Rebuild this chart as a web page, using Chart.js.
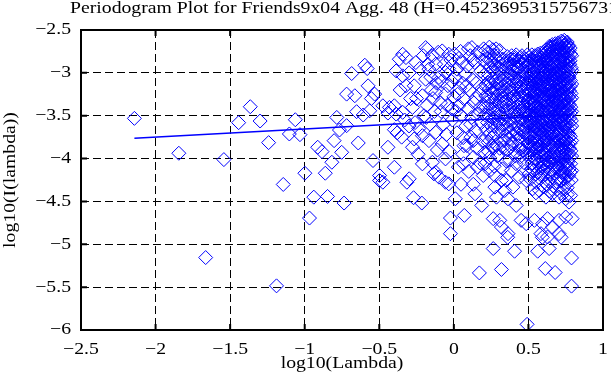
<!DOCTYPE html>
<html>
<head>
  <meta charset="UTF-8">
  <title>Periodogram Plot</title>
  <script src="https://cdn.jsdelivr.net/npm/chart.js"></script>
  <style>
    body, html { margin: 0; padding: 0; background: #fff; }
    #wrap { width: 611px; height: 385px; position: relative; }
  </style>
</head>
<body>
  <div id="wrap"><canvas id="pgram" width="611" height="385"></canvas></div>

  <script>
    const plotTitle = 'Periodogram Plot for Friends9x04 Agg. 48 (H=0.4523695315756731)';
    const xLabel = 'log10(Lambda)';
    const yLabel = 'log10(I(lambda))';

    // periodogram points (one line of x matches one line of y)
    const logLambda = [
      -2.142,-1.844,-1.664,-1.542,-1.443,-1.365,-1.299,-1.242,-1.189,-1.144,
      -1.103,-1.063,-1.032,-0.999,-0.968,-0.939,-0.913,-0.884,-0.862,-0.847,
      -0.818,-0.803,-0.785,-0.767,-0.752,-0.736,-0.719,-0.719,-0.685,-0.664,
      -0.652,-0.641,-0.608,-0.597,-0.581,-0.575,-0.564,-0.553,-0.542,-0.531,
      -0.498,-0.498,-0.476,-0.476,-0.442,-0.442,-0.432,-0.399,-0.399,-0.399,
      -0.387,-0.387,-0.380,-0.366,-0.360,-0.350,-0.343,-0.343,-0.343,-0.330,
      -0.321,-0.321,-0.315,-0.300,-0.300,-0.299,-0.277,-0.277,-0.270,-0.266,
      -0.266,-0.260,-0.250,-0.240,-0.230,-0.215,-0.211,-0.211,-0.211,-0.200,
      -0.189,-0.189,-0.180,-0.178,-0.167,-0.167,-0.160,-0.150,-0.144,-0.144,
      -0.134,-0.130,-0.122,-0.122,-0.122,-0.122,-0.110,-0.100,-0.100,-0.090,
      -0.080,-0.078,-0.078,-0.070,-0.056,-0.056,-0.056,-0.056,-0.050,-0.040,
      -0.034,-0.034,-0.030,-0.023,-0.023,-0.020,-0.012,-0.010,0.000,0.010,
      0.010,0.020,0.021,0.030,0.032,0.040,0.045,0.050,0.054,0.060,
      0.063,0.065,0.065,0.070,0.075,0.080,0.087,0.090,0.095,0.100,
      0.105,0.110,0.115,0.120,0.121,0.125,0.130,0.131,0.131,0.135,
      0.140,0.142,0.145,0.150,0.155,0.160,0.165,0.170,0.171,0.175,
      0.180,0.185,0.187,0.190,0.195,0.197,0.200,0.200,0.209,0.242,
      0.264,0.264,0.275,0.275,0.286,0.308,0.319,0.319,0.319,0.341,
      0.352,0.361,0.363,0.363,0.385,0.396,0.407,0.418,0.440,0.451,
      0.485,0.485,0.491,0.528,0.540,0.562,0.573,0.584,0.593,0.595,
      0.613,0.617,0.628,0.628,0.639,0.661,0.661,0.679,0.705,0.705,
      0.705,0.719,0.750,0.750,0.772,0.783,0.789,0.789,0.793,0.550,
      0.600,0.640,0.690,0.720,0.760,
      -0.290,-0.255,-0.235,-0.205,-0.185,-0.175,-0.155,-0.140,-0.115,-0.105,
      -0.085,-0.065,-0.045,-0.035,-0.015,0.005,0.015,0.025,0.035,0.048,
      0.058,0.068,0.085,0.098,0.112,0.128,0.148,0.158,0.178,0.192,
      0.212,0.207,0.214,0.209,0.216,0.205,
      0.224,0.228,0.221,0.226,0.230,
      0.238,0.243,0.236,0.241,0.245,0.239,
      0.253,0.257,0.251,0.258,0.254,
      0.268,0.272,0.266,0.271,0.274,0.267,0.270,
      0.283,0.287,0.282,0.288,0.285,
      0.298,0.303,0.296,0.301,0.304,0.299,
      0.313,0.317,0.312,0.318,0.315,
      0.328,0.332,0.327,0.333,0.329,0.331,0.326,
      0.343,0.347,0.342,0.348,0.344,
      0.358,0.362,0.357,0.363,0.359,0.361,
      0.373,0.377,0.372,0.378,0.374,0.376,
      0.388,0.392,0.387,0.393,0.389,0.391,
      0.403,0.407,0.402,0.408,0.404,0.406,
      0.418,0.422,0.417,0.423,0.419,0.421,0.416,
      0.433,0.437,0.432,0.438,0.434,0.436,
      0.448,0.452,0.447,0.453,0.449,0.451,0.446,
      0.463,0.467,0.462,0.468,0.464,0.466,
      0.478,0.482,0.477,0.483,0.479,0.481,0.476,
      0.493,0.497,0.492,0.498,0.494,0.496,0.491,
      0.217,0.217,0.217,0.217,
      0.232,0.232,0.232,0.232,0.232,
      0.247,0.247,0.247,0.247,
      0.262,0.262,0.262,0.262,0.262,
      0.277,0.277,0.277,0.277,0.277,
      0.292,0.292,0.292,0.292,0.292,
      0.307,0.307,0.307,0.307,0.307,
      0.322,0.322,0.322,0.322,
      0.337,0.337,0.337,0.337,0.337,
      0.352,0.352,0.352,0.352,0.352,
      0.367,0.367,0.367,0.367,
      0.382,0.382,0.382,0.382,0.382,
      0.397,0.397,0.397,0.397,0.397,
      0.412,0.412,0.412,0.412,0.412,0.412,
      0.427,0.427,0.427,0.427,0.427,
      0.442,0.442,0.442,0.442,0.442,0.442,
      0.457,0.457,0.457,0.457,0.457,0.457,
      0.472,0.472,0.472,0.472,0.472,0.472,
      0.487,0.487,0.487,0.487,0.487,0.487,
      0.500,0.500,0.500,0.500,0.500,0.500,
      0.503,0.507,0.502,0.506,0.504,0.508,0.501,0.505,0.503,
      0.513,0.517,0.512,0.516,0.514,0.518,0.511,0.515,0.513,
      0.523,0.527,0.522,0.526,0.524,0.528,0.521,0.525,
      0.533,0.537,0.532,0.536,0.534,0.538,0.531,0.535,0.533,
      0.543,0.547,0.542,0.546,0.544,0.548,0.541,0.545,0.543,
      0.553,0.557,0.552,0.556,0.554,0.558,0.551,0.555,0.553,
      0.563,0.567,0.562,0.566,0.564,0.568,0.561,0.565,0.563,
      0.573,0.577,0.572,0.576,0.574,0.578,0.571,0.575,
      0.583,0.587,0.582,0.586,0.584,0.588,0.581,0.585,0.583,
      0.593,0.597,0.592,0.596,0.594,0.598,0.591,0.595,0.593,
      0.603,0.607,0.602,0.606,0.604,0.608,0.601,0.605,0.603,
      0.613,0.617,0.612,0.616,0.614,0.618,0.611,0.615,0.613,
      0.623,0.627,0.622,0.626,0.624,0.628,0.621,0.625,0.623,
      0.633,0.637,0.632,0.636,0.634,0.638,0.631,0.635,0.633,
      0.643,0.647,0.642,0.646,0.644,0.648,0.641,0.645,0.643,
      0.653,0.657,0.652,0.656,0.654,0.658,0.651,0.655,0.653,
      0.663,0.667,0.662,0.666,0.664,0.668,0.661,0.665,0.663,0.667,
      0.673,0.677,0.672,0.676,0.674,0.678,0.671,0.675,0.673,
      0.683,0.687,0.682,0.686,0.684,0.688,0.681,0.685,0.683,
      0.693,0.697,0.692,0.696,0.694,0.698,0.691,0.695,0.693,0.697,
      0.703,0.707,0.702,0.706,0.704,0.708,0.701,0.705,0.703,
      0.713,0.717,0.712,0.716,0.714,0.718,0.711,0.715,0.713,0.717,
      0.723,0.727,0.722,0.726,0.724,0.728,0.721,0.725,0.723,0.727,
      0.733,0.737,0.732,0.736,0.734,0.738,0.731,0.735,0.733,0.737,0.734,
      0.743,0.747,0.742,0.746,0.744,0.748,0.741,0.745,0.743,0.747,
      0.753,0.757,0.752,0.756,0.754,0.758,0.751,0.755,0.753,0.757,
      0.763,0.767,0.762,0.766,0.764,0.768,0.761,0.765,0.763,0.767,
      0.773,0.777,0.772,0.776,0.774,0.778,0.771,0.775,0.773,
      0.783,0.787,0.782,0.786,0.784,0.788,0.781,0.785,0.783,0.787,
      0.510,0.510,0.510,0.510,0.510,0.510,0.510,
      0.520,0.520,0.520,0.520,0.520,0.520,0.520,
      0.530,0.530,0.530,0.530,0.530,0.530,
      0.540,0.540,0.540,0.540,0.540,0.540,0.540,
      0.550,0.550,0.550,0.550,0.550,0.550,0.550,
      0.560,0.560,0.560,0.560,0.560,0.560,0.560,0.560,
      0.570,0.570,0.570,0.570,0.570,0.570,0.570,
      0.580,0.580,0.580,0.580,0.580,0.580,0.580,0.580,
      0.590,0.590,0.590,0.590,0.590,0.590,0.590,
      0.600,0.600,0.600,0.600,0.600,0.600,0.600,0.600,
      0.610,0.610,0.610,0.610,0.610,0.610,0.610,0.610,
      0.620,0.620,0.620,0.620,0.620,0.620,0.620,0.620,0.620,
      0.630,0.630,0.630,0.630,0.630,0.630,0.630,0.630,0.630,
      0.640,0.640,0.640,0.640,0.640,0.640,0.640,0.640,0.640,
      0.650,0.650,0.650,0.650,0.650,0.650,0.650,0.650,
      0.660,0.660,0.660,0.660,0.660,0.660,0.660,0.660,0.660,0.660,
      0.670,0.670,0.670,0.670,0.670,0.670,0.670,0.670,0.670,
      0.680,0.680,0.680,0.680,0.680,0.680,0.680,0.680,0.680,0.680,
      0.690,0.690,0.690,0.690,0.690,0.690,0.690,0.690,0.690,0.690,
      0.700,0.700,0.700,0.700,0.700,0.700,0.700,0.700,0.700,0.700,
      0.710,0.710,0.710,0.710,0.710,0.710,0.710,0.710,0.710,0.710,
      0.720,0.720,0.720,0.720,0.720,0.720,0.720,0.720,0.720,0.720,0.720,
      0.730,0.730,0.730,0.730,0.730,0.730,0.730,0.730,0.730,0.730,
      0.740,0.740,0.740,0.740,0.740,0.740,0.740,0.740,0.740,0.740,0.740,
      0.750,0.750,0.750,0.750,0.750,0.750,0.750,0.750,0.750,0.750,
      0.760,0.760,0.760,0.760,0.760,0.760,0.760,0.760,0.760,0.760,0.760,
      0.770,0.770,0.770,0.770,0.770,0.770,0.770,0.770,0.770,0.770,
      0.780,0.780,0.780,0.780,0.780,0.780,0.780,0.780,0.780,0.780,
      0.790,0.790,0.790,0.790,0.790,0.790,0.790,0.790,0.790
    ];
    const logPower = [
      -3.531,-3.938,-5.155,-4.012,-3.581,-3.395,-3.562,-3.814,-5.485,-4.302,
      -3.713,-3.547,-3.721,-4.171,-4.694,-4.450,-3.868,-3.919,-4.171,-4.442,
      -4.043,-3.791,-3.520,-3.667,-3.927,-4.519,-3.248,-3.616,-3.008,-3.267,
      -3.453,-3.818,-3.492,-2.911,-2.950,-3.151,-3.442,-3.300,-4.023,-3.248,
      -4.198,-4.256,-4.276,-3.384,-3.469,-3.868,-3.403,-3.384,-3.663,-4.101,
      -3.481,-2.977,-3.700,-2.841,-3.200,-3.750,-2.783,-3.035,-3.461,-3.550,
      -2.822,-3.151,-4.276,-3.620,-3.000,-4.236,-3.403,-3.868,-4.457,-3.151,
      -3.771,-3.580,-3.300,-3.950,-2.950,-4.519,-3.267,-3.733,-4.062,-3.500,
      -2.705,-3.074,-3.380,-2.725,-2.957,-3.791,-3.600,-3.200,-2.802,-4.043,
      -4.178,-3.450,-2.899,-3.229,-3.694,-4.159,-3.900,-3.054,-4.217,-3.350,
      -3.100,-2.744,-3.829,-3.600,-2.996,-3.248,-4.004,-4.276,-3.720,-3.150,
      -2.783,-4.295,-3.920,-4.694,-4.876,-2.850,-3.422,-3.550,-3.280,-4.469,
      -3.050,-3.700,-2.957,-4.100,-3.384,-3.180,-2.750,-3.500,-2.880,-3.950,
      -3.756,-3.300,-4.060,-4.663,-3.020,-3.620,-3.849,-2.920,-3.420,-4.150,
      -3.200,-2.800,-3.750,-3.520,-2.705,-3.080,-4.300,-3.985,-3.790,-3.350,
      -2.880,-4.411,-3.680,-3.120,-3.880,-2.760,-3.480,-3.250,-5.334,-4.050,
      -2.980,-3.580,-4.547,-3.180,-3.800,-4.198,-2.720,-3.400,-4.062,-4.140,
      -4.701,-5.050,-4.198,-4.333,-4.450,-4.721,-4.256,-4.799,-5.294,-4.372,
      -4.256,-4.919,-4.876,-4.469,-4.140,-4.333,-5.081,-4.547,-4.217,-4.721,
      -4.760,-4.256,-5.934,-4.353,-4.721,-5.081,-4.372,-4.876,-4.919,-4.760,
      -5.283,-4.450,-4.701,-4.915,-5.050,-4.411,-4.799,-5.329,-4.450,-4.721,
      -4.876,-4.919,-4.469,-4.682,-4.508,-4.430,-5.159,-5.488,-4.701,-4.400,
      -4.330,-4.380,-4.360,-4.400,-4.420,
      -3.300,-2.880,-3.650,-2.800,-3.520,-2.900,-3.050,-3.300,-3.120,-2.760,
      -3.450,-2.900,-3.380,-2.950,-3.100,-2.780,-3.450,-3.250,-2.830,-4.300,
      -3.120,-3.850,-3.150,-2.720,-3.600,-2.850,-3.300,-4.100,-3.400,-2.850,
      -2.74,-3.02,-3.27,-3.49,-3.66,-3.93,
      -2.83,-3.11,-3.35,-3.58,-3.81,
      -2.70,-2.94,-3.19,-3.42,-3.70,-3.99,
      -2.88,-3.07,-3.30,-3.53,-3.76,
      -2.79,-2.99,-3.23,-3.46,-3.62,-3.88,-4.09,
      -2.72,-3.13,-3.38,-3.57,-3.84,
      -2.86,-3.05,-3.26,-3.44,-3.68,-3.96,
      -2.92,-3.17,-3.33,-3.51,-3.79,
      -2.84,-3.00,-3.21,-3.40,-3.61,-3.87,-4.12,
      -2.95,-3.12,-3.29,-3.48,-3.73,
      -2.81,-3.03,-3.24,-3.43,-3.64,-3.90,
      -2.89,-3.08,-3.31,-3.55,-3.77,-4.02,
      -2.80,-2.97,-3.18,-3.37,-3.59,-3.83,
      -2.85,-3.06,-3.27,-3.46,-3.66,-3.94,
      -2.79,-2.93,-3.14,-3.34,-3.52,-3.71,-4.06,
      -2.87,-3.04,-3.22,-3.41,-3.63,-3.85,
      -2.82,-2.98,-3.16,-3.36,-3.54,-3.75,-3.98,
      -2.90,-3.09,-3.28,-3.47,-3.69,-3.91,
      -2.84,-3.01,-3.19,-3.39,-3.58,-3.80,-4.15,
      -2.79,-2.96,-3.13,-3.32,-3.50,-3.72,-3.95,
      -2.88,-3.14,-3.40,-3.75,
      -2.76,-3.02,-3.27,-3.50,-3.92,
      -2.85,-3.12,-3.36,-3.61,
      -2.73,-2.96,-3.18,-3.42,-3.85,
      -2.90,-3.09,-3.31,-3.53,-3.72,
      -2.80,-2.95,-3.20,-3.49,-3.97,
      -2.74,-3.12,-3.36,-3.59,-3.88,
      -2.96,-3.09,-3.27,-3.68,
      -2.90,-3.07,-3.34,-3.53,-3.79,
      -2.86,-3.19,-3.38,-3.57,-4.03,
      -2.94,-3.13,-3.36,-3.69,
      -2.84,-3.01,-3.22,-3.45,-3.86,
      -2.91,-3.09,-3.28,-3.50,-3.72,
      -2.82,-2.99,-3.19,-3.40,-3.58,-3.97,
      -2.95,-3.10,-3.30,-3.49,-3.78,
      -2.86,-3.07,-3.26,-3.45,-3.66,-3.89,
      -2.80,-3.02,-3.21,-3.41,-3.60,-3.84,
      -2.87,-3.05,-3.24,-3.44,-3.67,-4.05,
      -2.92,-3.08,-3.27,-3.46,-3.63,-3.88,
      -2.86,-3.03,-3.22,-3.41,-3.59,-3.82,
      -2.82,-3.04,-3.19,-3.36,-3.48,-3.63,-3.81,-3.99,-4.18,
      -2.88,-2.97,-3.12,-3.29,-3.44,-3.57,-3.74,-3.90,-4.24,
      -2.79,-3.08,-3.22,-3.33,-3.52,-3.68,-3.86,-4.05,
      -2.85,-2.99,-3.15,-3.27,-3.41,-3.59,-3.77,-3.94,-4.14,
      -2.80,-2.93,-3.10,-3.24,-3.46,-3.62,-3.70,-3.88,-4.09,
      -2.86,-3.02,-3.17,-3.31,-3.50,-3.65,-3.83,-4.01,-4.28,
      -2.78,-2.95,-3.13,-3.26,-3.39,-3.55,-3.72,-3.93,-4.16,
      -2.84,-3.06,-3.20,-3.35,-3.47,-3.60,-3.79,-3.97,
      -2.81,-2.96,-3.09,-3.23,-3.43,-3.58,-3.75,-3.91,-4.11,
      -2.87,-3.01,-3.16,-3.30,-3.45,-3.66,-3.84,-4.03,-4.21,
      -2.79,-2.94,-3.11,-3.28,-3.40,-3.53,-3.71,-3.89,-4.07,
      -2.83,-3.05,-3.18,-3.34,-3.49,-3.64,-3.80,-3.96,-4.19,
      -2.76,-2.92,-3.07,-3.21,-3.38,-3.56,-3.73,-3.92,-4.10,
      -2.74,-2.98,-3.14,-3.29,-3.44,-3.61,-3.78,-3.98,-4.26,
      -2.71,-2.89,-3.03,-3.19,-3.32,-3.48,-3.67,-3.85,-4.04,
      -2.75,-2.95,-3.10,-3.25,-3.42,-3.57,-3.74,-3.90,-4.13,
      -2.70,-2.86,-3.02,-3.16,-3.33,-3.51,-3.69,-3.87,-4.06,-4.32,
      -2.73,-2.91,-3.08,-3.23,-3.37,-3.54,-3.70,-3.94,-4.17,
      -2.69,-2.84,-2.99,-3.13,-3.30,-3.46,-3.63,-3.82,-4.00,
      -2.72,-2.90,-3.06,-3.20,-3.36,-3.52,-3.68,-3.86,-4.08,-4.24,
      -2.67,-2.83,-2.97,-3.12,-3.27,-3.43,-3.59,-3.77,-3.95,
      -2.70,-2.88,-3.04,-3.18,-3.34,-3.50,-3.66,-3.84,-4.02,-4.20,
      -2.66,-2.81,-2.95,-3.10,-3.25,-3.41,-3.58,-3.76,-3.93,-4.15,
      -2.64,-2.79,-2.93,-3.07,-3.22,-3.38,-3.55,-3.72,-3.89,-4.09,-4.35,
      -2.68,-2.85,-3.00,-3.15,-3.31,-3.47,-3.63,-3.81,-3.99,-4.18,
      -2.66,-2.82,-2.96,-3.11,-3.26,-3.44,-3.60,-3.79,-3.97,-4.22,
      -2.70,-2.87,-3.02,-3.17,-3.33,-3.49,-3.65,-3.83,-4.04,-4.28,
      -2.74,-2.90,-3.05,-3.21,-3.37,-3.53,-3.71,-3.88,-4.12,
      -2.78,-2.94,-3.09,-3.24,-3.40,-3.56,-3.74,-3.91,-4.06,-4.25,
      -2.90,-3.07,-3.24,-3.40,-3.55,-3.72,-3.95,
      -2.84,-3.01,-3.16,-3.37,-3.61,-3.80,-4.12,
      -2.93,-3.10,-3.30,-3.47,-3.64,-3.90,
      -2.82,-3.05,-3.20,-3.36,-3.53,-3.75,-4.00,
      -2.89,-3.06,-3.22,-3.40,-3.58,-3.78,-4.18,
      -2.81,-2.99,-3.10,-3.28,-3.44,-3.61,-3.88,-4.06,
      -2.88,-3.03,-3.17,-3.42,-3.66,-3.85,-4.22,
      -2.77,-2.92,-3.14,-3.30,-3.52,-3.69,-3.86,-4.04,
      -2.83,-3.04,-3.21,-3.38,-3.55,-3.71,-3.96,
      -2.76,-2.90,-3.06,-3.24,-3.47,-3.62,-3.80,-4.14,
      -2.85,-2.99,-3.15,-3.31,-3.45,-3.59,-3.76,-3.93,
      -2.73,-2.88,-3.01,-3.26,-3.42,-3.68,-3.85,-4.02,-4.30,
      -2.80,-2.95,-3.10,-3.25,-3.40,-3.52,-3.70,-3.88,-4.08,
      -2.69,-2.84,-3.00,-3.13,-3.27,-3.45,-3.64,-3.82,-4.16,
      -2.78,-2.92,-3.06,-3.22,-3.37,-3.53,-3.71,-3.95,
      -2.67,-2.80,-2.94,-3.08,-3.23,-3.40,-3.60,-3.78,-3.99,-4.22,
      -2.75,-2.89,-3.04,-3.19,-3.29,-3.45,-3.62,-3.81,-4.01,
      -2.66,-2.79,-2.93,-3.09,-3.26,-3.41,-3.57,-3.74,-3.91,-4.11,
      -2.74,-2.87,-3.01,-3.16,-3.32,-3.48,-3.64,-3.80,-3.97,-4.27,
      -2.65,-2.78,-2.92,-3.07,-3.22,-3.38,-3.55,-3.72,-3.90,-4.10,
      -2.73,-2.86,-3.00,-3.14,-3.30,-3.46,-3.62,-3.79,-3.98,-4.14,
      -2.63,-2.76,-2.90,-3.05,-3.19,-3.35,-3.52,-3.70,-3.86,-4.05,-4.26,
      -2.71,-2.85,-2.99,-3.13,-3.28,-3.44,-3.61,-3.80,-3.96,-4.16,
      -2.62,-2.75,-2.89,-3.03,-3.18,-3.34,-3.50,-3.67,-3.85,-4.02,-4.24,
      -2.70,-2.83,-2.98,-3.13,-3.28,-3.45,-3.62,-3.78,-3.94,-4.12,
      -2.64,-2.77,-2.91,-3.06,-3.21,-3.37,-3.53,-3.70,-3.88,-4.08,-4.34,
      -2.68,-2.82,-2.97,-3.12,-3.28,-3.44,-3.59,-3.76,-3.95,-4.20,
      -2.71,-2.86,-3.01,-3.16,-3.31,-3.47,-3.64,-3.82,-3.99,-4.16,
      -2.80,-2.97,-3.13,-3.29,-3.45,-3.62,-3.79,-3.97,-4.14
    ];

    // least squares fit line, end points
    const fitX = [-2.142, 0.785];
    const fitY = [-3.764, -3.485];

    const xTicks = [-2.5, -2, -1.5, -1, -0.5, 0, 0.5, 1];
    const yTicks = [-6, -5.5, -5, -4.5, -4, -3.5, -3, -2.5];

    const serif = "'Liberation Serif', 'Times New Roman', serif";
    const fontSize = 17;
    const textStretch = 1.16; // the original lettering is wider than it is tall
    Chart.defaults.font.family = serif;
    Chart.defaults.font.size = fontSize;
    Chart.defaults.color = '#000';

    const minus = v => String(v).replace('-', '\u2212');

    // widen every piece of text the chart writes
    const stretchPlugin = {
      id: 'stretchText',
      beforeDraw(chart) {
        const c = chart.ctx;
        if (c.__stretched) return;
        const plain = c.fillText.bind(c);
        c.fillText = function (text, x, y) {
          c.save();
          c.translate(x, y);
          c.scale(textStretch, 1);
          plain(text, 0, 0);
          c.restore();
        };
        c.__stretched = true;
      }
    };

    // title is left-aligned and runs off the right edge like the original figure
    const titlePlugin = {
      id: 'plotTitle',
      afterDraw(chart) {
        const c = chart.ctx;
        c.save();
        c.font = fontSize + 'px ' + serif;
        c.fillStyle = '#000';
        c.textAlign = 'left';
        c.textBaseline = 'alphabetic';
        c.fillText(plotTitle, 70, 13);
        c.restore();
      }
    };

    // box round the plot with inward tick marks on all four sides
    const framePlugin = {
      id: 'frame',
      afterDraw(chart) {
        const { ctx: c, chartArea: a, scales } = chart;
        const len = 6;
        c.save();
        c.strokeStyle = '#000';
        c.lineWidth = 2;
        c.strokeRect(a.left, a.top, a.right - a.left, a.bottom - a.top);
        c.beginPath();
        xTicks.forEach(v => {
          const px = scales.x.getPixelForValue(v);
          c.moveTo(px, a.bottom); c.lineTo(px, a.bottom - len);
          c.moveTo(px, a.top); c.lineTo(px, a.top + len);
        });
        yTicks.forEach(v => {
          const py = scales.y.getPixelForValue(v);
          c.moveTo(a.left, py); c.lineTo(a.left + len, py);
          c.moveTo(a.right, py); c.lineTo(a.right - len, py);
        });
        c.stroke();
        c.restore();
      }
    };

    const points = logLambda.map((x, i) => ({ x: x, y: logPower[i] }));
    const fitLine = fitX.map((x, i) => ({ x: x, y: fitY[i] }));

    new Chart(document.getElementById('pgram'), {
      type: 'scatter',
      data: {
        datasets: [
          {
            type: 'line',
            data: fitLine,
            borderColor: '#0000ff',
            borderWidth: 1.5,
            pointRadius: 0,
            fill: false
          },
          {
            data: points,
            pointStyle: 'rectRot',
            pointRadius: 7,
            pointHoverRadius: 7,
            borderColor: '#0000ff',
            backgroundColor: 'rgba(0,0,0,0)',
            borderWidth: 1
          }
        ]
      },
      options: {
        responsive: false,
        animation: false,
        devicePixelRatio: 1,
        layout: { padding: { top: 30, right: 1, left: 0, bottom: 0 } },
        plugins: {
          legend: { display: false },
          tooltip: { enabled: false },
          title: { display: false }
        },
        scales: {
          x: {
            type: 'linear',
            min: -2.5,
            max: 1,
            afterBuildTicks: s => { s.ticks = xTicks.map(v => ({ value: v })); },
            afterFit: s => { s.height = 55; s.paddingLeft = 0; s.paddingRight = 0; },
            ticks: { padding: 9, callback: minus, maxRotation: 0, autoSkip: false },
            grid: { color: '#000', lineWidth: 1, drawTicks: false },
            border: { display: false, dash: [8, 4] },
            title: { display: true, text: xLabel, padding: { top: 0, bottom: 11 } }
          },
          y: {
            type: 'linear',
            min: -6,
            max: -2.5,
            afterBuildTicks: s => { s.ticks = yTicks.map(v => ({ value: v })); },
            afterFit: s => { s.width = 81; s.paddingTop = 0; s.paddingBottom = 0; },
            ticks: { padding: 10, callback: minus, autoSkip: false },
            grid: { color: '#000', lineWidth: 1, drawTicks: false },
            border: { display: false, dash: [8, 4] },
            title: { display: true, text: yLabel, padding: { top: 0, bottom: 0 } }
          }
        }
      },
      plugins: [stretchPlugin, titlePlugin, framePlugin]
    });
  </script>
</body>
</html>
